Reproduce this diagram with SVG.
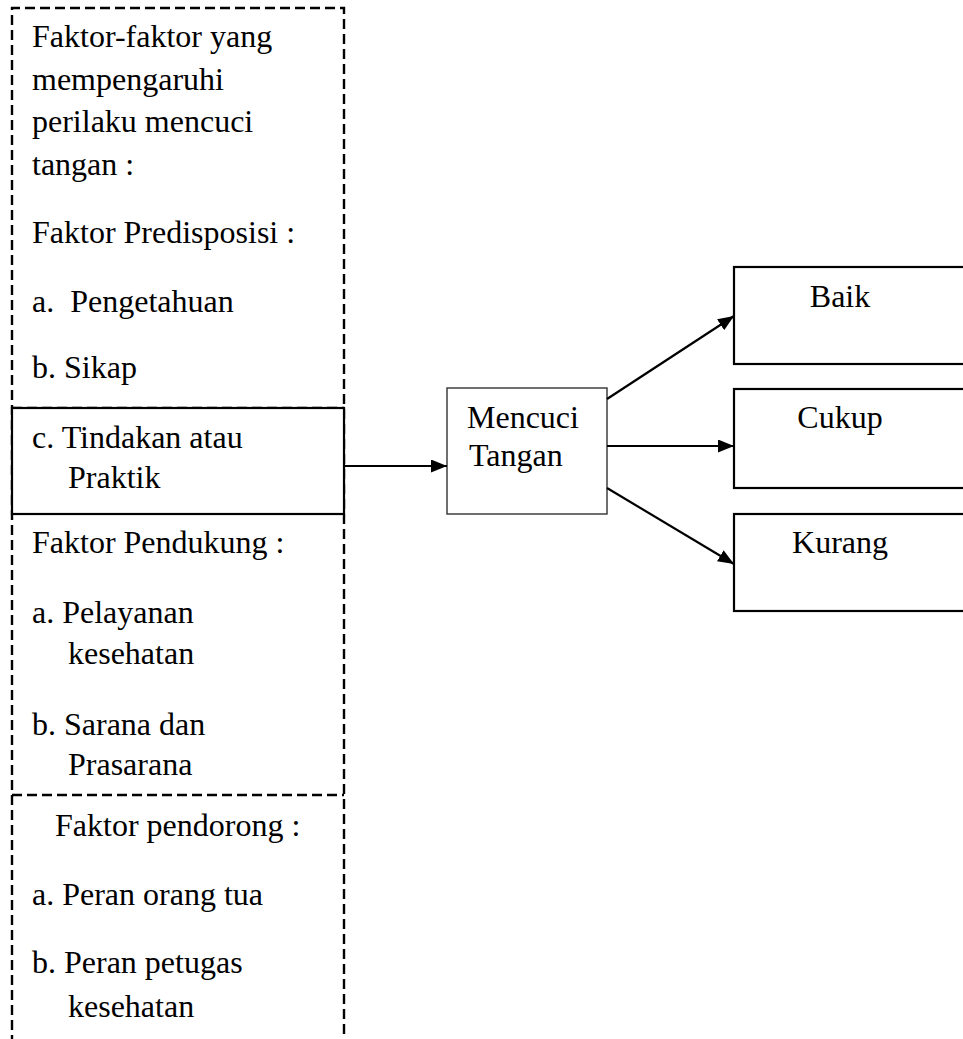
<svg xmlns="http://www.w3.org/2000/svg" width="963" height="1039" viewBox="0 0 963 1039">
<defs>
<style>
text{font-family:"Liberation Serif","Times New Roman",serif;font-size:32px;fill:#000}
.dash{fill:none;stroke:#000;stroke-width:2.4;stroke-dasharray:10 5}
.box{fill:#fff;stroke:#000;stroke-width:2.2}
.thin{fill:#fff;stroke:#333;stroke-width:1.4}
.conn{fill:none;stroke:#000;stroke-width:2.2}
.mid{text-anchor:middle}
</style>
<marker id="arr" viewBox="0 0 16 13" refX="16" refY="6.5" markerWidth="16" markerHeight="13" markerUnits="userSpaceOnUse" orient="auto">
<path d="M0,0 L16,6.5 L0,13 Z" fill="#000"/>
</marker>
</defs>
<rect width="963" height="1039" fill="#fff"/>
<g id="factors">
<path class="dash" d="M12,1045 L12,8 L344,8 L344,1045"/>
<path class="dash" d="M12,795 L344,795"/>
<path class="dash" d="M12,408 L344,408"/>
<text x="32" y="47">Faktor-faktor yang</text>
<text x="32" y="90">mempengaruhi</text>
<text x="32" y="132">perilaku mencuci</text>
<text x="32" y="175">tangan :</text>
<text x="32" y="243">Faktor Predisposisi :</text>
<text x="32" y="312" xml:space="preserve">a.  Pengetahuan</text>
<text x="32" y="378">b. Sikap</text>
<text x="32" y="553">Faktor Pendukung :</text>
<text x="32" y="623">a. Pelayanan</text>
<text x="68" y="664">kesehatan</text>
<text x="32" y="735">b. Sarana dan</text>
<text x="68" y="775">Prasarana</text>
<text x="55" y="836">Faktor pendorong :</text>
<text x="32" y="905">a. Peran orang tua</text>
<text x="32" y="973">b. Peran petugas</text>
<text x="68" y="1017">kesehatan</text>
</g>
<g id="tindakan">
<rect class="box" x="12" y="408" width="332" height="106"/>
<text x="32" y="448">c. Tindakan atau</text>
<text x="68" y="488">Praktik</text>
</g>
<g id="mencuci">
<rect class="thin" x="447" y="388" width="160" height="126"/>
<text x="467" y="428">Mencuci</text>
<text x="469" y="466">Tangan</text>
</g>
<g id="baik">
<rect class="box" x="734" y="267" width="240" height="97"/>
<text class="mid" x="840" y="307">Baik</text>
</g>
<g id="cukup">
<rect class="box" x="734" y="389" width="240" height="99"/>
<text class="mid" x="840" y="428">Cukup</text>
</g>
<g id="kurang">
<rect class="box" x="734" y="514" width="240" height="97"/>
<text class="mid" x="840" y="553">Kurang</text>
</g>
<g id="connectors">
<line class="conn" x1="344" y1="466" x2="447" y2="466" marker-end="url(#arr)"/>
<line class="conn" x1="607" y1="399" x2="734" y2="316" marker-end="url(#arr)"/>
<line class="conn" x1="607" y1="446" x2="734" y2="446" marker-end="url(#arr)"/>
<line class="conn" x1="607" y1="488" x2="734" y2="564" marker-end="url(#arr)"/>
</g>
</svg>
